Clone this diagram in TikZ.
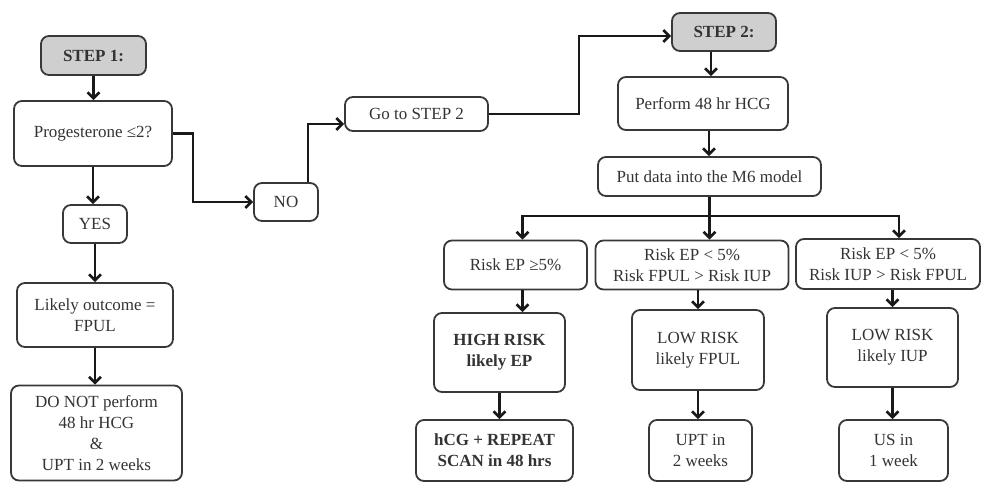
\documentclass[tikz,border=0pt]{standalone}
\usepackage{fontspec}
\setmainfont{Liberation Serif}
\usetikzlibrary{arrows.meta}
\begin{document}
\begin{tikzpicture}[x=1pt,y=-1pt,
    box/.style={draw=black!78,line width=1.8pt,rounded corners=8pt,align=center,
        inner sep=0pt,text=black!80,font=\fontsize{17}{21}\selectfont},
    stepbox/.style={box,fill=black!19,font=\fontsize{17}{21}\selectfont\bfseries},
    arr/.style={-{Straight Barb[length=6pt,width=12pt]},line width=2.6pt,black!90}]
    \useasboundingbox (0,0) rectangle (982,483);

    \node[stepbox,minimum width=105,minimum height=39] (step1) at (93.5,55.5) {STEP 1:};
    \node[box,minimum width=158,minimum height=65] (prog) at (93,133.5) {Progesterone ≤2?};
    \node[box,minimum width=64,minimum height=38] (yes) at (95,224) {YES};
    \node[box,minimum width=156,minimum height=64] (likely) at (95,315) {Likely outcome =\\FPUL};
    \node[box,minimum width=171,minimum height=95] (donot) at (96.5,433) {DO NOT perform\\48 hr HCG\\\&\\UPT in 2 weeks};
    \node[box,minimum width=64,minimum height=38] (no) at (286,202) {NO};
    \node[box,minimum width=143,minimum height=34] (go) at (416.5,114) {Go to STEP 2};

    \node[stepbox,minimum width=104,minimum height=38] (step2) at (724,32) {STEP 2:};
    \node[box,minimum width=170,minimum height=53] (perform) at (703,103.5) {Perform 48 hr HCG};
    \node[box,minimum width=223,minimum height=39] (putdata) at (709.5,176.5) {Put data into the M6 model};

    \node[box,minimum width=143,minimum height=49] (ep) at (515.5,265) {Risk EP ≥5\%};
    \node[box,minimum width=193,minimum height=49] (fpul) at (692,265) {Risk EP < 5\%\\Risk FPUL > Risk IUP};
    \node[box,minimum width=184,minimum height=50] (iup) at (888,264) {Risk EP < 5\%\\Risk IUP > Risk FPUL};

    \node[box,minimum width=131,minimum height=79,font=\fontsize{17}{21}\selectfont\bfseries] (high) at (499.5,352.5) {HIGH RISK\\likely EP};
    \node[box,minimum width=132,minimum height=80] (lowf) at (698,350) {LOW RISK\\likely FPUL};
    \node[box,minimum width=131,minimum height=79] (lowi) at (892.5,347.5) {LOW RISK\\likely IUP};

    \node[box,minimum width=157,minimum height=61,font=\fontsize{17}{21}\selectfont\bfseries] (hcg) at (494.5,450.5) {hCG + REPEAT\\SCAN in 48 hrs};
    \node[box,minimum width=103,minimum height=61] (upt) at (700.5,450.5) {UPT in\\2 weeks};
    \node[box,minimum width=109,minimum height=61] (us) at (893.5,450.5) {US in\\1 week};

    \draw[arr] (step1.south) -- (step1.south |- prog.north);
    \draw[arr] (prog.south) -- (prog.south |- yes.north);
    \draw[arr] (yes.south) -- (yes.south |- likely.north);
    \draw[arr] (likely.south) -- (likely.south |- donot.north);
    \draw[arr] (prog.east) -- ++(20,0) |- (no.west);
    \draw[arr] ([xshift=22pt]no.north) |- ([yshift=-10pt]go.west);
    \draw[arr] (go.east) -- ++(90,0) |- ([yshift=-4pt]step2.west);
    \draw[arr] ([xshift=-13pt]step2.south) -- ([xshift=-13pt]step2.south |- perform.north);
    \draw[arr] ([xshift=6pt]perform.south) -- ([xshift=6pt]perform.south |- putdata.north);

    \draw[line width=2.6pt,black!90] (putdata.south) -- ++(0,19) coordinate (split);
    \draw[arr] (split) -| ([xshift=7pt]ep.north);
    \draw[arr] (split) -- (split |- fpul.north);
    \draw[arr] (split) -| ([xshift=11pt]iup.north);

    \draw[arr] ([xshift=7pt]ep.south) -- ([xshift=7pt]ep.south |- high.north);
    \draw[arr] (high.south) -- (high.south |- hcg.north);
    \draw[arr] (fpul.south -| lowf.north) -- (lowf.north);
    \draw[arr] (lowf.south) -- (lowf.south |- upt.north);
    \draw[arr] (iup.south -| lowi.north) -- (lowi.north);
    \draw[arr] (lowi.south) -- (lowi.south |- us.north);
\end{tikzpicture}
\end{document}
